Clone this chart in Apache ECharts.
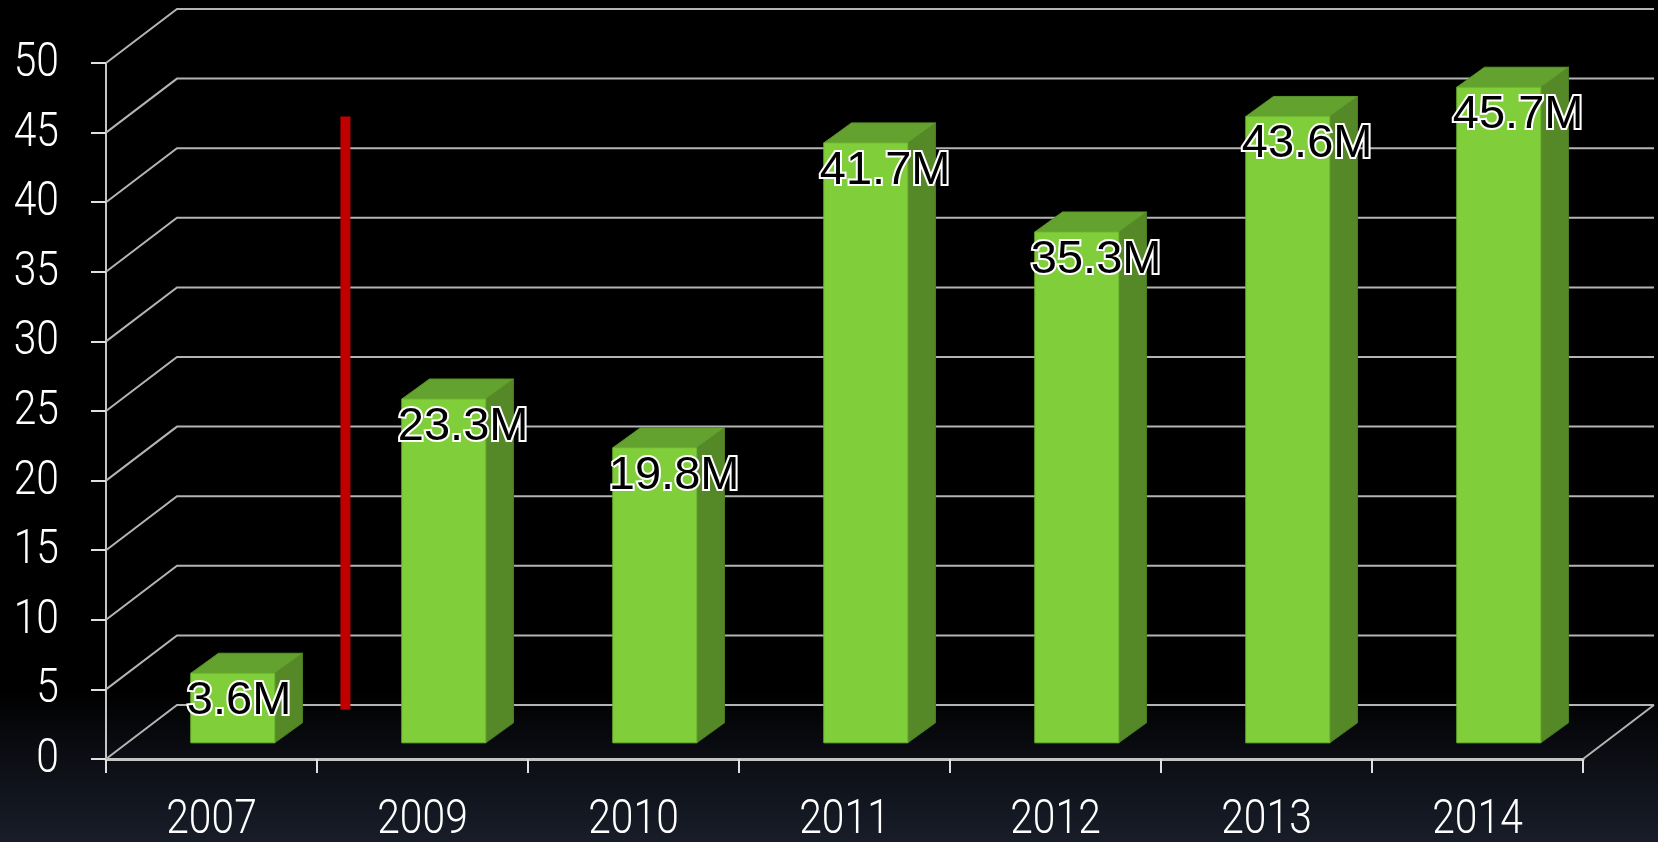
<!DOCTYPE html>
<html>
<head>
<meta charset="utf-8">
<script src="https://cdn.jsdelivr.net/npm/echarts@6/dist/echarts.min.js"></script>
<style>
  html, body { margin: 0; padding: 0; }
  #chart {
    width: 1658px; height: 842px;
    background: linear-gradient(to bottom, #000 0%, #000 82%, #0c0e14 90%, #181d29 100%);
  }
</style>
</head>
<body>
<div id="chart"></div>
<script>
// Yearly totals, in millions
const years = ['2007', '2009', '2010', '2011', '2012', '2013', '2014'];
const totals = [3.6, 23.3, 19.8, 41.7, 35.3, 43.6, 45.7];
const valueTicks = [0, 5, 10, 15, 20, 25, 30, 35, 40, 45, 50];
// Red divider marking the gap after the first year (from/to in axis units)
const dividerAfterIndex = 0;
const dividerRange = [2, 44.6];

// Oblique depth of the floor / back wall
const DX = 71, DY = 54;
const FRONT = 0.3, BACK = 0.69, TOP_REF = 0.66;

const chart = echarts.init(document.getElementById('chart'), null, { renderer: 'canvas' });

// Condensed light face for the axis numbers
const axisFont = '300 48px Roboto, "Liberation Sans", Arial, sans-serif';
const AXIS_SQUEEZE = 0.85;

function renderGrid(params, api) {
  const t = api.value(1);
  const p = api.coord([0, t]);
  const bw = api.size([1, 0])[0];
  const left = p[0] - bw / 2;
  const right = left + bw * years.length;
  const children = [{
    type: 'polyline',
    shape: { points: [[left, p[1]], [left + DX, p[1] - DY], [right + DX, p[1] - DY]] },
    style: { stroke: '#b4b4b4', lineWidth: 2, fill: null }
  }];
  if (t === 0) {
    children.push({
      type: 'line',
      shape: { x1: right, y1: p[1], x2: right + DX, y2: p[1] - DY },
      style: { stroke: '#b4b4b4', lineWidth: 2 }
    });
  }
  return { type: 'group', children };
}

function renderValueLabel(params, api) {
  const t = api.value(1);
  const p = api.coord([0, t]);
  const bw = api.size([1, 0])[0];
  return {
    type: 'text',
    x: p[0] - bw / 2 - 47, y: p[1] + 1,
    scaleX: AXIS_SQUEEZE,
    style: { x: 0, y: 0, text: String(t), fill: '#fff', font: axisFont,
             align: 'right', verticalAlign: 'middle' }
  };
}

function renderYearLabel(params, api) {
  const i = api.value(0);
  const p = api.coord([i, 0]);
  return {
    type: 'text',
    x: p[0], y: p[1] + 62,
    scaleX: AXIS_SQUEEZE,
    style: { x: 0, y: 0, text: years[i], fill: '#fff', font: axisFont,
             align: 'center', verticalAlign: 'middle' }
  };
}

function renderBar(params, api) {
  const cat = api.value(0), v = api.value(1);
  const base = api.coord([cat, 0]);
  const top = api.coord([cat, v]);
  const bw = api.size([1, 0])[0];
  const faceW = bw * 0.398;
  const cx = base[0] + DX * FRONT;
  const x0 = cx - faceW / 2, x1 = cx + faceW / 2;
  const yb = base[1] - DY * FRONT;
  const yt = top[1] - DY * TOP_REF;
  const sdx = DX * (BACK - FRONT), sdy = DY * (BACK - FRONT) * 0.95;
  return {
    type: 'group',
    children: [
      { type: 'polygon',
        shape: { points: [[x1, yt], [x1 + sdx, yt - sdy], [x1 + sdx, yb - sdy], [x1, yb]] },
        style: { fill: '#558827', stroke: '#4d7d22', lineWidth: 1 } },
      { type: 'polygon',
        shape: { points: [[x0, yt], [x0 + sdx, yt - sdy], [x1 + sdx, yt - sdy], [x1, yt]] },
        style: { fill: '#63a22e', stroke: '#5a9529', lineWidth: 1 } },
      { type: 'rect',
        shape: { x: x0, y: yt, width: faceW, height: yb - yt },
        style: { fill: '#80cf3a', stroke: '#6fb832', lineWidth: 1 } },
      { type: 'text',
        z2: 10,
        style: {
          x: x0 - 4, y: yt + 28,
          text: v.toFixed(1) + 'M',
          fill: '#000',
          stroke: '#fff', lineWidth: 4,
          font: '47px "Liberation Sans", Arial, sans-serif',
          align: 'left', verticalAlign: 'middle'
        } }
    ]
  };
}

function renderDivider(params, api) {
  const idx = api.value(0);
  const a = api.coord([idx, api.value(1)]);
  const b = api.coord([idx, api.value(2)]);
  const bw = api.size([1, 0])[0];
  const x = a[0] + bw / 2 + DX * 0.4;
  return {
    type: 'rect',
    shape: { x: x - 5, y: b[1] - DY * 0.4, width: 10, height: a[1] - b[1] },
    style: { fill: '#c00000' }
  };
}

chart.setOption({
  backgroundColor: 'transparent',
  animation: false,
  grid: { left: 106, right: 75, top: 63, bottom: 83 },
  xAxis: {
    type: 'category',
    data: years,
    boundaryGap: true,
    axisLine: { show: true, lineStyle: { color: '#c4c4c4', width: 3 } },
    axisTick: { show: true, length: 14, lineStyle: { color: '#e0e0e0', width: 2 } },
    axisLabel: { show: false },
    splitLine: { show: false }
  },
  yAxis: {
    type: 'value',
    min: 0, max: 50, interval: 5,
    axisLine: { show: true, lineStyle: { color: '#c4c4c4', width: 2 } },
    axisTick: { show: true, length: 15, lineStyle: { color: '#e0e0e0', width: 2 } },
    axisLabel: { show: false },
    splitLine: { show: false }
  },
  series: [
    {
      type: 'custom', name: 'grid', clip: false, z: 1,
      renderItem: renderGrid,
      data: valueTicks.map(t => [0, t])
    },
    {
      type: 'custom', name: 'valueLabels', clip: false, z: 2,
      renderItem: renderValueLabel,
      data: valueTicks.map(t => [0, t])
    },
    {
      type: 'custom', name: 'yearLabels', clip: false, z: 2,
      renderItem: renderYearLabel,
      data: years.map((y, i) => [i, 0])
    },
    {
      type: 'custom', name: 'totals', clip: false, z: 3,
      renderItem: renderBar,
      data: totals.map((v, i) => [i, v])
    },
    {
      type: 'custom', name: 'divider', clip: false, z: 4,
      renderItem: renderDivider,
      data: [[dividerAfterIndex, dividerRange[0], dividerRange[1]]]
    }
  ]
});
</script>
</body>
</html>
